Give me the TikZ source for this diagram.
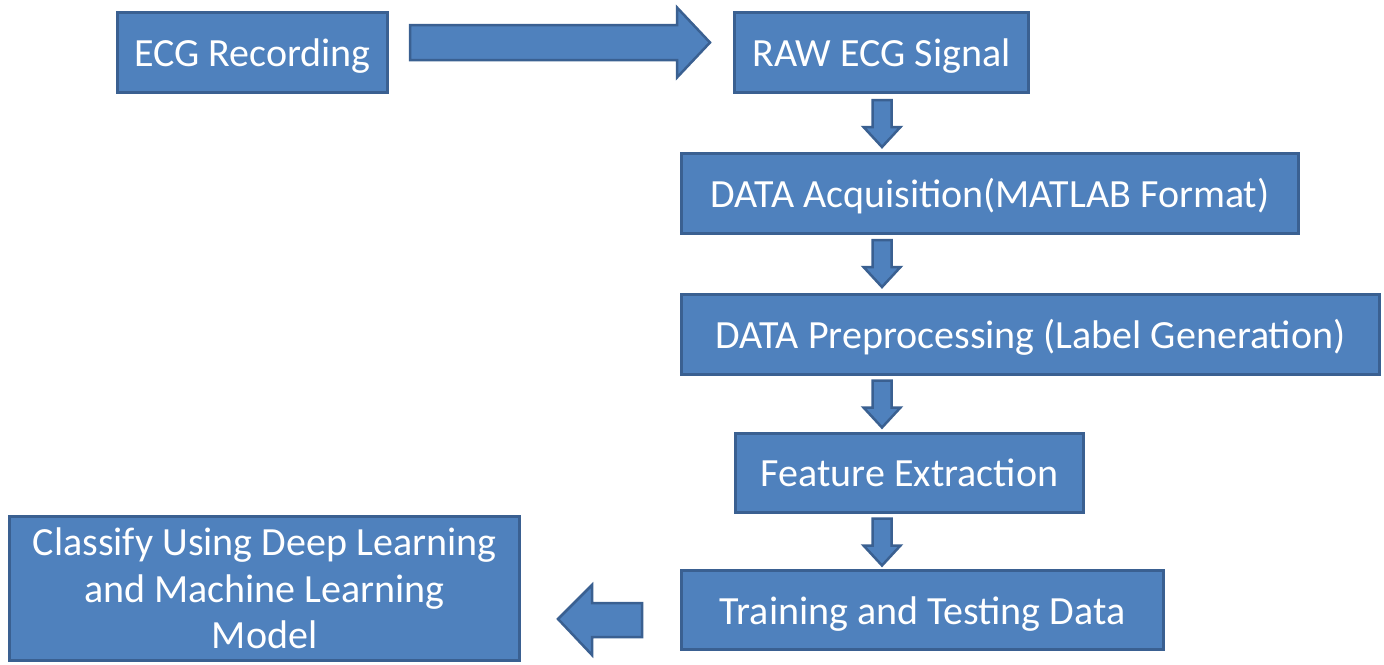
\documentclass[tikz,border=0pt]{standalone}
\usepackage{fontspec}
\setmainfont{Carlito}
\definecolor{boxfill}{HTML}{4F81BD}
\definecolor{boxline}{HTML}{3A6091}
\tikzset{
  stepbox/.style={draw=boxline, fill=boxfill, line width=3pt, inner sep=0pt,
    text=white, font=\fontsize{40}{46.5}\selectfont, align=center},
  oneline/.style={text height=35pt, text depth=7pt},
  blockarrow/.style={draw=boxline, fill=boxfill, line width=2.5pt, line join=miter}
}
\begin{document}
\begin{tikzpicture}[x=1pt,y=-1pt]
\useasboundingbox (0,0) rectangle (1384,664);
% boxes (outer edges from reference, border drawn centred)
\node[stepbox, oneline, minimum width=270pt, minimum height=80pt] (rec) at (252.5,52.5) {ECG Recording};
\node[stepbox, oneline, minimum width=294pt, minimum height=80pt] (raw) at (881.5,52.5) {RAW ECG Signal};
\node[stepbox, oneline, minimum width=617pt, minimum height=80pt] (acq) at (990,193.5) {DATA Acquisition(MATLAB Format)};
\node[stepbox, oneline, minimum width=698pt, minimum height=80pt] (pre) at (1030.5,334.5) {DATA Preprocessing (Label Generation)};
\node[stepbox, oneline, minimum width=348pt, minimum height=79pt] (fea) at (909.5,472.5) {Feature Extraction};
\node[stepbox, oneline, minimum width=482pt, minimum height=79pt] (tra) at (922.5,610) {Training and Testing Data};
\node[stepbox, minimum width=510pt, minimum height=144pt] (cla) at (264.5,588.5) {Classify Using Deep Learning\\and Machine Learning\\Model};
% arrow centres
\coordinate (r1) at (560,42.5);
\coordinate (d1) at (882,123.5);
\coordinate (d2) at (882,263.5);
\coordinate (d3) at (882,404);
\coordinate (d4) at (882,542);
\coordinate (l1) at (600,620);
% right block arrow  ECG Recording -> RAW ECG Signal
\draw[blockarrow, shift={(r1)}] (-150,-17.5) -- (117,-17.5) -- (117,-35) -- (150,0)
  -- (117,35) -- (117,17.5) -- (-150,17.5) -- cycle;
% down block arrows
\foreach \c in {d1,d2,d3,d4}{
  \draw[blockarrow, shift={(\c)}] (-9.5,-23.5) -- (9.5,-23.5) -- (9.5,3.5) -- (18.5,3.5)
    -- (0,23.5) -- (-18.5,3.5) -- (-9.5,3.5) -- cycle;
}
% left block arrow  Training -> Classify
\draw[blockarrow, shift={(l1)}] (42,-17) -- (-8,-17) -- (-8,-35) -- (-42,-1)
  -- (-8,35) -- (-8,17) -- (42,17) -- cycle;
\end{tikzpicture}
\end{document}
